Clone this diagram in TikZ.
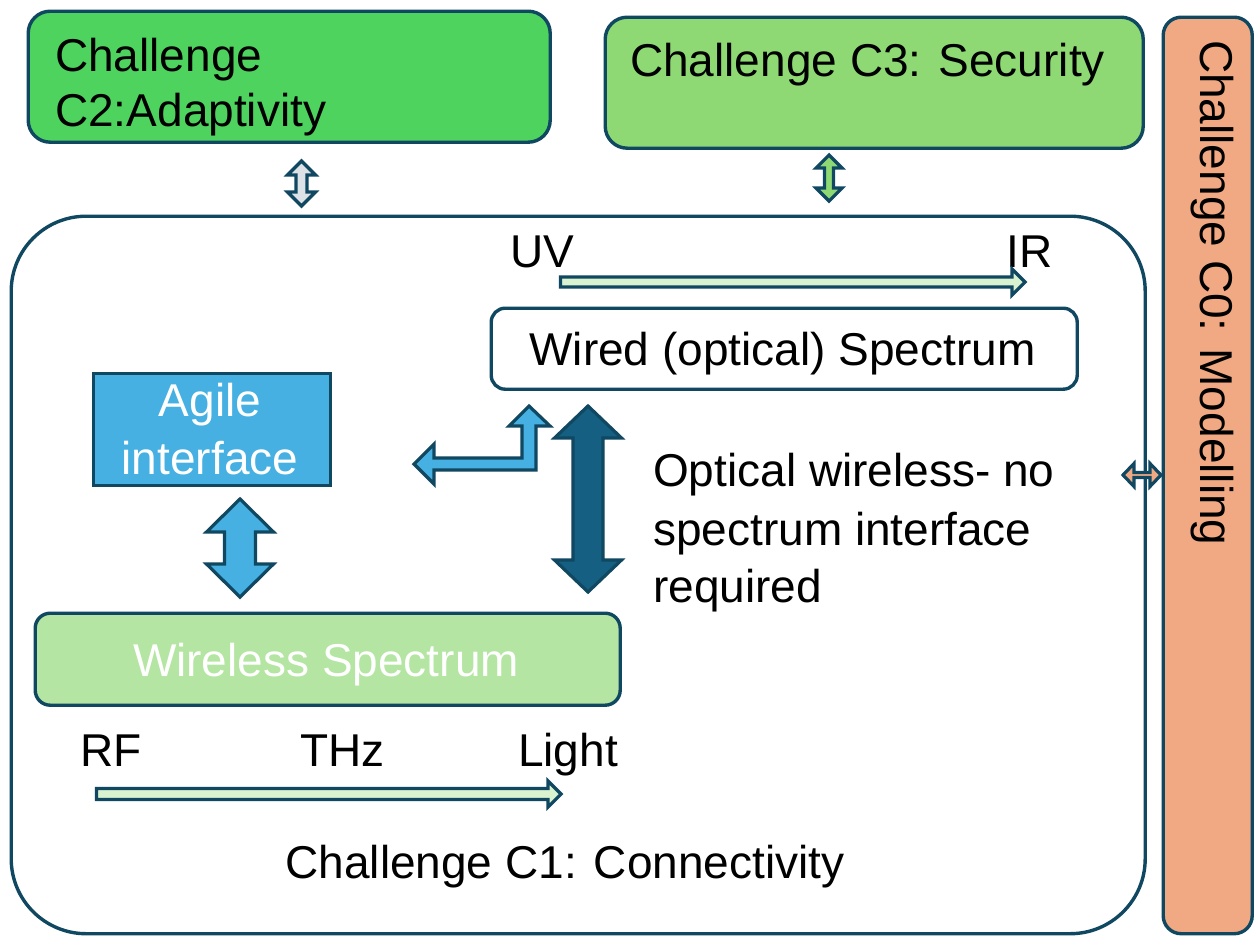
\documentclass[tikz,border=0pt]{standalone}
\usepackage{fontspec}
\setmainfont{Liberation Sans}
\definecolor{edge}{HTML}{104862}
\definecolor{cTwo}{HTML}{4ED35E}
\definecolor{cThree}{HTML}{8ED973}
\definecolor{cZero}{HTML}{F1A983}
\definecolor{wless}{HTML}{B4E5A2}
\definecolor{pale}{HTML}{D9F2D0}
\definecolor{agile}{HTML}{45B0E1}
\definecolor{deep}{HTML}{156082}
\definecolor{mist}{HTML}{DDE2E6}
\newcommand\bigtext{\fontsize{46}{57}\selectfont}
% vertical block arrow with two heads:
% #1 style, #2 x, #3 top tip, #4 bottom tip, #5 half head, #6 half shaft, #7 head length
\newcommand\VDArrow[7]{%
  \draw[#1] (#2,#3) -- ({#2+#5},{#3+#7}) -- ({#2+#6},{#3+#7}) -- ({#2+#6},{#4-#7})
    -- ({#2+#5},{#4-#7}) -- (#2,#4) -- ({#2-#5},{#4-#7}) -- ({#2-#6},{#4-#7})
    -- ({#2-#6},{#3+#7}) -- ({#2-#5},{#3+#7}) -- cycle;}
% horizontal block arrow with two heads:
% #1 style, #2 y, #3 left tip, #4 right tip, #5 half head, #6 half shaft, #7 head length
\newcommand\HDArrow[7]{%
  \draw[#1] (#3,#2) -- ({#3+#7},{#2-#5}) -- ({#3+#7},{#2-#6}) -- ({#4-#7},{#2-#6})
    -- ({#4-#7},{#2-#5}) -- (#4,#2) -- ({#4-#7},{#2+#5}) -- ({#4-#7},{#2+#6})
    -- ({#3+#7},{#2+#6}) -- ({#3+#7},{#2+#5}) -- cycle;}
% horizontal block arrow pointing right:
% #1 style, #2 y, #3 tail, #4 tip, #5 half head, #6 half shaft, #7 head length
\newcommand\HRArrow[7]{%
  \draw[#1] (#3,{#2-#6}) -- ({#4-#7},{#2-#6}) -- ({#4-#7},{#2-#5}) -- (#4,#2)
    -- ({#4-#7},{#2+#5}) -- ({#4-#7},{#2+#6}) -- (#3,{#2+#6}) -- cycle;}
\tikzset{
  panel/.style={draw=edge, line width=3.4pt, inner sep=0pt, anchor=north west},
  blk/.style={draw=edge, line width=3.2pt, line join=miter},
  txt/.style={inner sep=0pt, font=\bigtext, text=black},
}
\begin{document}
\begin{tikzpicture}[x=1pt, y=-1pt]
\useasboundingbox (0,0) rectangle (1255,937);

% outer challenge panels
\node[panel, rounded corners=22pt, fill=cTwo, minimum width=522pt, minimum height=131pt] (c2) at (26.5,9.5) {};
\node[panel, rounded corners=22pt, fill=cThree, minimum width=538pt, minimum height=131pt] (c3) at (603.5,15.5) {};
\node[panel, rounded corners=18pt, fill=cZero, minimum width=89pt, minimum height=916.5pt] (c0) at (1161.5,15.5) {};
\node[panel, rounded corners=75pt, fill=white, minimum width=1134pt, minimum height=717.5pt] (c1) at (9.5,214.5) {};

% inner boxes
\node[panel, rounded corners=14pt, fill=white, minimum width=586pt, minimum height=81pt] (wired) at (489.5,306.5) {};
\node[panel, fill=agile, minimum width=237pt, minimum height=112pt] (agile) at (91.5,371.5) {};
\node[panel, rounded corners=15pt, fill=wless, minimum width=585pt, minimum height=92pt] (wireless) at (33.5,611.5) {};

% labels
\node[txt, anchor=base west] (c2a) at (55,71) {Challenge};
\node[txt, anchor=base west] (c2b) at (55,126) {C2:Adaptivity};
\node[txt, anchor=base west] (c3t) at (630,76) {Challenge C3: Security};
\node[txt, anchor=base west, rotate=-90] (c0t) at (1200,40) {Challenge C0: Modelling};
\node[txt, anchor=base] (wiredt) at (782.5,365) {Wired (optical) Spectrum};
\node[txt, anchor=base, text=white] (agilea) at (210,416) {Agile};
\node[txt, anchor=base, text=white] (agileb) at (210,474) {interface};
\node[txt, anchor=base, text=white] (wlesst) at (326,676) {Wireless Spectrum};
\node[txt, anchor=base west] (uv) at (510,267) {UV};
\node[txt, anchor=base west] (ir) at (1006,267) {IR};
\node[txt, anchor=base west] (opt1) at (653,486) {Optical wireless- no};
\node[txt, anchor=base west] (opt2) at (653,545) {spectrum interface};
\node[txt, anchor=base west] (opt3) at (653,602) {required};
\node[txt, anchor=base west] (rf) at (80,766) {RF};
\node[txt, anchor=base west] (thz) at (300,766) {THz};
\node[txt, anchor=base west] (light) at (518,766) {Light};
\node[txt, anchor=base] (c1t) at (565,878) {Challenge C1: Connectivity};

% block arrows
\VDArrow{blk, fill=mist}{301.5}{161}{206}{14}{5.5}{14}
\VDArrow{blk, fill=cThree}{829}{155}{201}{13}{4.5}{13}
\HDArrow{blk, fill=cZero}{475}{1123}{1161}{11.5}{2.5}{11}
\VDArrow{blk, fill=agile}{240}{499}{597}{33.5}{15.5}{33}
\VDArrow{blk, fill=deep}{588}{406}{592}{33.5}{15}{32}
\HRArrow{blk, fill=pale}{282}{560.5}{1025}{13}{5}{13}
\HRArrow{blk, fill=pale}{794}{96.5}{561}{13}{5.5}{13}
% bent arrow between the agile interface and the wired spectrum
\draw[blk, fill=agile] (414,464) -- (434,444) -- (434,458) -- (522,458) -- (522,426)
  -- (509,426) -- (529,406) -- (550,426) -- (536,426) -- (536,470) -- (434,470)
  -- (434,484) -- cycle;
\end{tikzpicture}
\end{document}
